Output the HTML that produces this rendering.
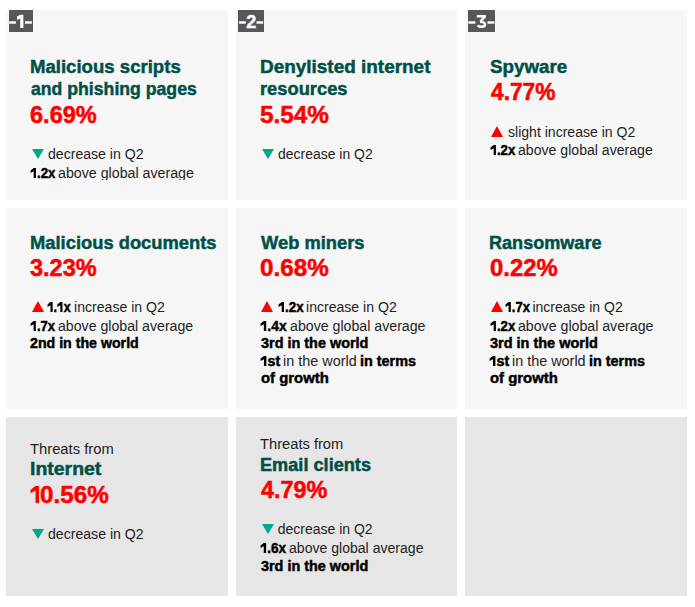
<!DOCTYPE html>
<html><head><meta charset="utf-8"><style>
html,body{margin:0;padding:0;background:#fff;}
body{width:695px;height:607px;position:relative;overflow:hidden;font-family:"Liberation Sans",sans-serif;}
.c{position:absolute;}
.l{position:absolute;white-space:nowrap;line-height:normal;transform-origin:0 0;}
.l b{font-weight:700;color:#000;-webkit-text-stroke:0.45px currentColor;}
.t{font-size:18px;font-weight:700;color:#005047;-webkit-text-stroke:0.45px currentColor;}
.p{font-size:24px;font-weight:700;color:#ff0000;-webkit-text-stroke:0.5px currentColor;}
.s{font-size:14px;font-weight:400;color:#1d1d1b;}
.lab{position:absolute;background:#575757;height:22px;top:10px;}
.d{position:absolute;background:#fff;height:2px;}
.n{position:absolute;color:#fff;font-weight:700;font-size:18px;line-height:normal;}
body>svg{position:absolute;}
.o{display:inline-block;vertical-align:baseline;}
</style></head><body>

<div class="c" style="left:6px;top:10px;width:222px;height:190px;background:#f6f6f6"></div>
<div class="c" style="left:236px;top:10px;width:221px;height:190px;background:#f6f6f6"></div>
<div class="c" style="left:465px;top:10px;width:222px;height:190px;background:#f6f6f6"></div>
<div class="c" style="left:6px;top:208px;width:222px;height:201px;background:#f6f6f6"></div>
<div class="c" style="left:236px;top:208px;width:221px;height:201px;background:#f6f6f6"></div>
<div class="c" style="left:465px;top:208px;width:222px;height:201px;background:#f6f6f6"></div>
<div class="c" style="left:6px;top:417px;width:222px;height:179px;background:#e6e6e6"></div>
<div class="c" style="left:236px;top:417px;width:221px;height:179px;background:#e6e6e6"></div>
<div class="c" style="left:465px;top:417px;width:222px;height:179px;background:#e6e6e6"></div>
<svg style="left:9px;top:10px" width="24" height="22" viewBox="0 0 24 22"><rect width="24" height="22" fill="#575757"/><rect x="0.2" y="11.3" width="6.7" height="2.4" fill="#fff"/><rect x="16.0" y="11.3" width="6.9" height="2.4" fill="#fff"/><path d="M8 6.6L11.2 4.8H14.4V18H11.2V8.4L8 9.9Z" fill="#fff"/></svg>
<svg style="left:238px;top:10px" width="26" height="22" viewBox="0 0 26 22"><rect width="26" height="22" fill="#575757"/><rect x="1.1" y="11.3" width="6.8" height="2.4" fill="#fff"/><rect x="18.5" y="11.3" width="6.7" height="2.4" fill="#fff"/><text x="8.2" y="18" fill="#fff" stroke="#fff" stroke-width="0.4" font-family="Liberation Sans" font-weight="700" font-size="18">2</text></svg>
<svg style="left:468px;top:10px" width="27" height="22" viewBox="0 0 27 22"><rect width="27" height="22" fill="#575757"/><rect x="0.4" y="11.3" width="7.0" height="2.4" fill="#fff"/><rect x="19.5" y="11.3" width="6.9" height="2.4" fill="#fff"/><path d="M8.8 5H17.9V7.4L14.6 10.7H11.2L14.5 7.6H8.8Z" fill="#fff"/><path d="M12 11.9C15.2 11.6 17 12.9 17 14.5C17 16.1 15.5 16.8 13.4 16.8C11.8 16.8 10.5 16.3 9.6 15.5" fill="none" stroke="#fff" stroke-width="2.5"/></svg>
<div class="l t" id="t1a" style="left:30.43px;top:57.00px;transform:scaleX(1.0319);">Malicious scripts</div>
<div class="l t" id="t1b" style="left:30.51px;top:79.00px;transform:scaleX(0.9809);">and phishing pages</div>
<div class="l p" id="p1" style="left:30.07px;top:101.00px;transform:scaleX(0.9821);">6.69%</div>
<div class="l s" id="s1a" style="left:48.25px;top:146.00px;transform:scaleX(1.0054);">decrease in Q2</div>
<div class="l s" id="s1b_b" style="left:29.87px;top:164.80px;transform:scaleX(0.9476);height:15.20px;overflow:hidden;"><b><svg class="o" width="7.4" height="10" viewBox="0 0 7.4 10"><path d="M0.6 2.4L3.9 0H6.3V10H3.9V3.3L0.6 5Z" fill="currentColor"/></svg>.2x</b></div>
<div class="l s" id="s1b_r" style="left:58.22px;top:164.80px;transform:scaleX(1.0152);height:15.20px;overflow:hidden;">above global average</div>
<div class="l t" id="t2a" style="left:259.52px;top:57.00px;transform:scaleX(1.0519);">Denylisted internet</div>
<div class="l t" id="t2b" style="left:259.59px;top:79.00px;transform:scaleX(1.0170);">resources</div>
<div class="l p" id="p2" style="left:259.70px;top:101.00px;transform:scaleX(1.0132);">5.54%</div>
<div class="l s" id="s2a" style="left:278.05px;top:145.70px;transform:scaleX(0.9968);">decrease in Q2</div>
<div class="l t" id="t3a" style="left:490.25px;top:57.00px;transform:scaleX(1.0422);">Spyware</div>
<div class="l p" id="p3" style="left:491.04px;top:78.00px;transform:scaleX(0.9478);">4.77%</div>
<div class="l s" id="s3a" style="left:507.82px;top:124.00px;transform:scaleX(1.0034);">slight increase in Q2</div>
<div class="l s" id="s3b_b" style="left:489.88px;top:141.90px;transform:scaleX(0.9415);"><b><svg class="o" width="7.4" height="10" viewBox="0 0 7.4 10"><path d="M0.6 2.4L3.9 0H6.3V10H3.9V3.3L0.6 5Z" fill="currentColor"/></svg>.2x</b></div>
<div class="l s" id="s3b_r" style="left:518.41px;top:141.90px;transform:scaleX(1.0068);">above global average</div>
<div class="l t" id="t4a" style="left:29.89px;top:233.00px;transform:scaleX(1.0193);">Malicious documents</div>
<div class="l p" id="p4" style="left:30.38px;top:254.00px;transform:scaleX(0.9801);">3.23%</div>
<div class="l s" id="s4a_b" style="left:47.05px;top:298.60px;transform:scaleX(0.8931);"><b><svg class="o" width="7.4" height="10" viewBox="0 0 7.4 10"><path d="M0.6 2.4L3.9 0H6.3V10H3.9V3.3L0.6 5Z" fill="currentColor"/></svg>.<svg class="o" width="7.4" height="10" viewBox="0 0 7.4 10"><path d="M0.6 2.4L3.9 0H6.3V10H3.9V3.3L0.6 5Z" fill="currentColor"/></svg>x</b></div>
<div class="l s" id="s4a_r" style="left:74.35px;top:298.60px;transform:scaleX(1.0070);">increase in Q2</div>
<div class="l s" id="s4b_b" style="left:30.02px;top:317.80px;transform:scaleX(0.9319);"><b><svg class="o" width="7.4" height="10" viewBox="0 0 7.4 10"><path d="M0.6 2.4L3.9 0H6.3V10H3.9V3.3L0.6 5Z" fill="currentColor"/></svg>.7x</b></div>
<div class="l s" id="s4b_r" style="left:58.20px;top:317.80px;transform:scaleX(1.0097);">above global average</div>
<div class="l s" id="s4c" style="left:30.05px;top:334.90px;transform:scaleX(1.0131);"><b>2nd in the world</b></div>
<div class="l t" id="t5a" style="left:261.32px;top:233.00px;transform:scaleX(1.0176);">Web miners</div>
<div class="l p" id="p5" style="left:260.13px;top:254.00px;transform:scaleX(1.0089);">0.68%</div>
<div class="l s" id="s5a_b" style="left:277.85px;top:298.80px;transform:scaleX(0.9511);"><b><svg class="o" width="7.4" height="10" viewBox="0 0 7.4 10"><path d="M0.6 2.4L3.9 0H6.3V10H3.9V3.3L0.6 5Z" fill="currentColor"/></svg>.2x</b></div>
<div class="l s" id="s5a_r" style="left:306.13px;top:298.80px;transform:scaleX(1.0054);">increase in Q2</div>
<div class="l s" id="s5b_b" style="left:259.66px;top:317.70px;transform:scaleX(0.9903);"><b><svg class="o" width="7.4" height="10" viewBox="0 0 7.4 10"><path d="M0.6 2.4L3.9 0H6.3V10H3.9V3.3L0.6 5Z" fill="currentColor"/></svg>.4x</b></div>
<div class="l s" id="s5b_r" style="left:289.68px;top:317.70px;transform:scaleX(1.0121);">above global average</div>
<div class="l s" id="s5c" style="left:260.96px;top:334.70px;transform:scaleX(1.0301);"><b>3rd in the world</b></div>
<div class="l s" id="s5d_a" style="left:260.07px;top:352.50px;transform:scaleX(1.0138);"><b><svg class="o" width="7.4" height="10" viewBox="0 0 7.4 10"><path d="M0.6 2.4L3.9 0H6.3V10H3.9V3.3L0.6 5Z" fill="currentColor"/></svg>st</b></div>
<div class="l s" id="s5d_b" style="left:282.53px;top:352.50px;transform:scaleX(1.0287);">in the world</div>
<div class="l s" id="s5d_c" style="left:360.41px;top:352.50px;transform:scaleX(1.0284);"><b>in terms</b></div>
<div class="l s" id="s5e" style="left:260.63px;top:370.10px;transform:scaleX(1.0636);height:15.90px;overflow:hidden;"><b>of growth</b></div>
<div class="l t" id="t6a" style="left:489.47px;top:233.00px;transform:scaleX(1.0040);">Ransomware</div>
<div class="l p" id="p6" style="left:490.15px;top:254.00px;transform:scaleX(0.9935);">0.22%</div>
<div class="l s" id="s6a_b" style="left:504.58px;top:298.80px;transform:scaleX(0.9253);"><b><svg class="o" width="7.4" height="10" viewBox="0 0 7.4 10"><path d="M0.6 2.4L3.9 0H6.3V10H3.9V3.3L0.6 5Z" fill="currentColor"/></svg>.7x</b></div>
<div class="l s" id="s6a_r" style="left:532.45px;top:298.80px;">increase in Q2</div>
<div class="l s" id="s6b_b" style="left:489.88px;top:317.70px;transform:scaleX(0.9415);"><b><svg class="o" width="7.4" height="10" viewBox="0 0 7.4 10"><path d="M0.6 2.4L3.9 0H6.3V10H3.9V3.3L0.6 5Z" fill="currentColor"/></svg>.2x</b></div>
<div class="l s" id="s6b_r" style="left:517.75px;top:317.70px;transform:scaleX(1.0113);">above global average</div>
<div class="l s" id="s6c" style="left:489.94px;top:334.70px;transform:scaleX(1.0337);"><b>3rd in the world</b></div>
<div class="l s" id="s6d_a" style="left:488.98px;top:352.50px;transform:scaleX(1.0187);"><b><svg class="o" width="7.4" height="10" viewBox="0 0 7.4 10"><path d="M0.6 2.4L3.9 0H6.3V10H3.9V3.3L0.6 5Z" fill="currentColor"/></svg>st</b></div>
<div class="l s" id="s6d_b" style="left:511.94px;top:352.50px;transform:scaleX(1.0283);">in the world</div>
<div class="l s" id="s6d_c" style="left:589.39px;top:352.50px;transform:scaleX(1.0281);"><b>in terms</b></div>
<div class="l s" id="s6e" style="left:489.68px;top:370.10px;transform:scaleX(1.0636);height:15.90px;overflow:hidden;"><b>of growth</b></div>
<div class="l s" id="s7a" style="left:30.44px;top:441.00px;transform:scaleX(1.0551);">Threats from</div>
<div class="l t" id="t7" style="left:30.22px;top:459.00px;transform:scaleX(1.0810);">Internet</div>
<div class="l p" id="p7" style="left:30.00px;top:481.00px;transform:scaleX(1.0110);"><svg class="o" width="10" height="17" viewBox="0 0 10 17"><path d="M0.5 3.9L5.3 0H8.9V17H5.5V4.6L0.5 7.3Z" fill="currentColor"/></svg>0.56%</div>
<div class="l s" id="s7b" style="left:48.36px;top:525.70px;transform:scaleX(1.0069);">decrease in Q2</div>
<div class="l s" id="s8a" style="left:260.35px;top:436.00px;transform:scaleX(1.0493);">Threats from</div>
<div class="l t" id="t8" style="left:259.77px;top:454.90px;transform:scaleX(1.0087);">Email clients</div>
<div class="l p" id="p8" style="left:261.30px;top:476.00px;transform:scaleX(0.9748);">4.79%</div>
<div class="l s" id="s8b" style="left:277.70px;top:520.80px;">decrease in Q2</div>
<div class="l s" id="s8c_b" style="left:259.80px;top:539.70px;transform:scaleX(0.9724);"><b><svg class="o" width="7.4" height="10" viewBox="0 0 7.4 10"><path d="M0.6 2.4L3.9 0H6.3V10H3.9V3.3L0.6 5Z" fill="currentColor"/></svg>.6x</b></div>
<div class="l s" id="s8c_r" style="left:288.81px;top:539.70px;transform:scaleX(1.0042);">above global average</div>
<div class="l s" id="s8d" style="left:260.94px;top:557.70px;transform:scaleX(1.0284);"><b>3rd in the world</b></div>
<svg style="left:32px;top:149px" width="12" height="10" viewBox="0 0 12 10"><polygon points="0,0 12,0 6.0,10" fill="#00a88e"/></svg>
<svg style="left:262px;top:149px" width="12" height="10" viewBox="0 0 12 10"><polygon points="0,0 12,0 6.0,10" fill="#00a88e"/></svg>
<svg style="left:491px;top:126px" width="12" height="11" viewBox="0 0 12 11"><polygon points="0,11 6.0,0 12,11" fill="#ff0000"/></svg>
<svg style="left:32px;top:301px" width="12" height="11" viewBox="0 0 12 11"><polygon points="0,11 6.0,0 12,11" fill="#ff0000"/></svg>
<svg style="left:261px;top:301px" width="12" height="11" viewBox="0 0 12 11"><polygon points="0,11 6.0,0 12,11" fill="#ff0000"/></svg>
<svg style="left:491px;top:301px" width="12" height="11" viewBox="0 0 12 11"><polygon points="0,11 6.0,0 12,11" fill="#ff0000"/></svg>
<svg style="left:32px;top:529px" width="12" height="10" viewBox="0 0 12 10"><polygon points="0,0 12,0 6.0,10" fill="#00a88e"/></svg>
<svg style="left:262px;top:524px" width="12" height="10" viewBox="0 0 12 10"><polygon points="0,0 12,0 6.0,10" fill="#00a88e"/></svg>
</body></html>
